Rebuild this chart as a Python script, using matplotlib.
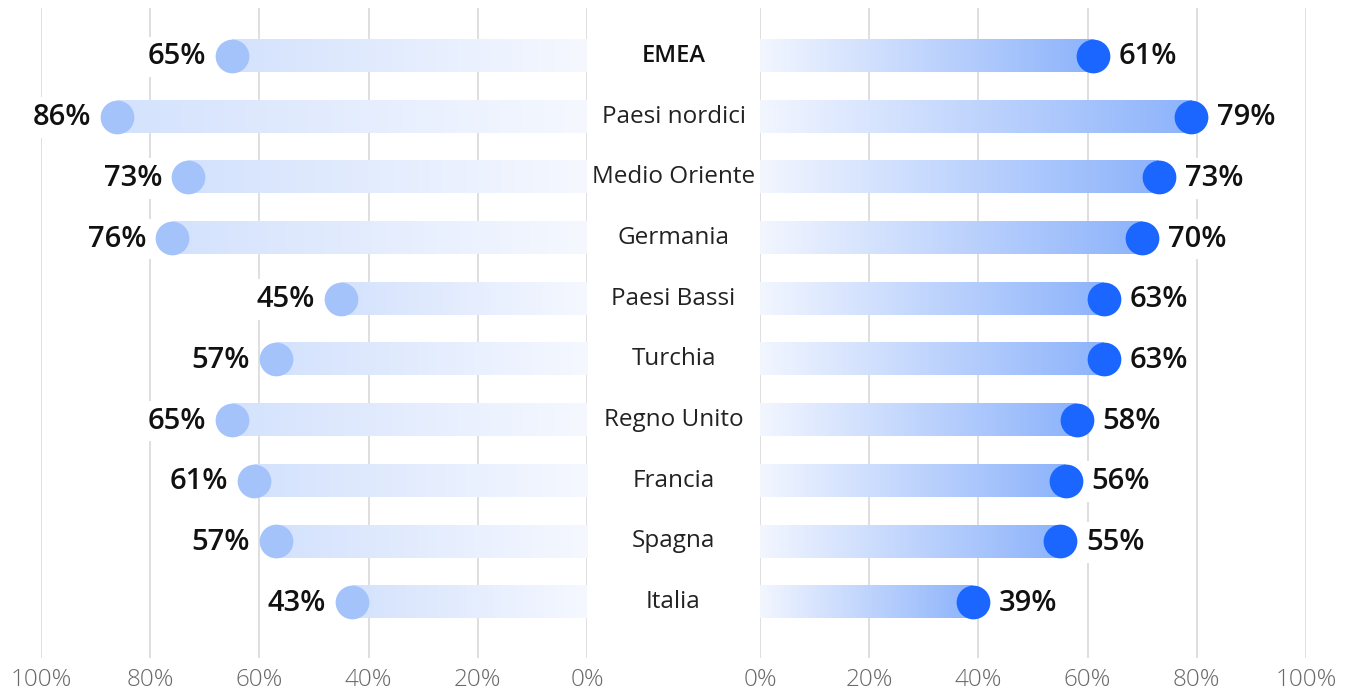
import numpy as np
import matplotlib
matplotlib.use("Agg")
import matplotlib.pyplot as plt
from matplotlib.colors import LinearSegmentedColormap

plt.rcParams['font.family'] = ['Open Sans', 'Noto Sans', 'DejaVu Sans']

regions = ["EMEA", "Paesi nordici", "Medio Oriente", "Germania", "Paesi Bassi",
           "Turchia", "Regno Unito", "Francia", "Spagna", "Italia"]
left_values = [65, 86, 73, 76, 45, 57, 65, 61, 57, 43]
right_values = [61, 79, 73, 70, 63, 63, 58, 56, 55, 39]
tick_values = [0, 20, 40, 60, 80, 100]

W, H = 1363, 692
fig = plt.figure(figsize=(W / 100, H / 100), dpi=100)
fig.patch.set_facecolor("white")

top_px, bot_px = 8, 658
ax_l = fig.add_axes([41 / W, 1 - bot_px / H, (587 - 41) / W, (bot_px - top_px) / H])
ax_r = fig.add_axes([760 / W, 1 - bot_px / H, (1306 - 760) / W, (bot_px - top_px) / H])

n = len(regions)
ylim = (n - 1 + 0.92, -0.79)
bar_h = 0.53

cmap_left = LinearSegmentedColormap.from_list("left", ["#f5f8ff", "#d4e2fd"])
cmap_right = LinearSegmentedColormap.from_list("right", ["#f2f6ff", "#8db3fb"])
grad = np.linspace(0, 1, 256).reshape(1, -1)

grid_color = "#d6d6d6"
text_color = "#111111"
px = 72 / 100  # points per pixel

for ax, values, cmap, dot_color, side in [
    (ax_l, left_values, cmap_left, "#a5c3fb", "left"),
    (ax_r, right_values, cmap_right, "#1a66ff", "right"),
]:
    ax.set_xlim(0, 100)
    if side == "left":
        ax.invert_xaxis()
    ax.set_ylim(*ylim)
    for t in tick_values:
        ax.axvline(t, color=grid_color, lw=1.1, zorder=0)
    for i, v in enumerate(values):
        ax.imshow(grad, cmap=cmap, aspect="auto",
                  extent=[0, v, i + bar_h / 2, i - bar_h / 2],
                  zorder=2, interpolation="bicubic")
        ax.scatter([v], [i], s=590, color=dot_color, zorder=3, linewidths=0)
        off = 26 if side == "right" else -26
        ax.annotate(f"{v}%", xy=(v, i), xytext=(off * px, -1 * px),
                    textcoords="offset points",
                    ha="left" if side == "right" else "right", va="center",
                    fontsize=21, fontweight="semibold", color=text_color, zorder=1,
                    bbox=dict(boxstyle="square,pad=0.2", fc="white", ec="none"))
    ax.set_xticks(tick_values)
    ax.set_xticklabels([f"{t}%" for t in tick_values])
    ax.tick_params(axis="x", length=0, pad=7, labelsize=17.5, labelcolor="#6a6a6a")
    for lab in ax.get_xticklabels():
        lab.set_fontweight("light")
    ax.set_yticks([])
    for s in ax.spines.values():
        s.set_visible(False)
    ax.set_facecolor("none")

# region names in the centre column
for i, name in enumerate(regions):
    y_fig = 1 - (top_px + (i - ylim[1]) / (ylim[0] - ylim[1]) * (bot_px - top_px)) / H
    fig.text(673.5 / W, y_fig, name, ha="center", va="center",
             fontsize=17.5 if name != "EMEA" else 17,
             fontweight="semibold" if name == "EMEA" else "normal",
             color=text_color if name == "EMEA" else "#222222")

fig.savefig("out.png", dpi=100, facecolor="white")
